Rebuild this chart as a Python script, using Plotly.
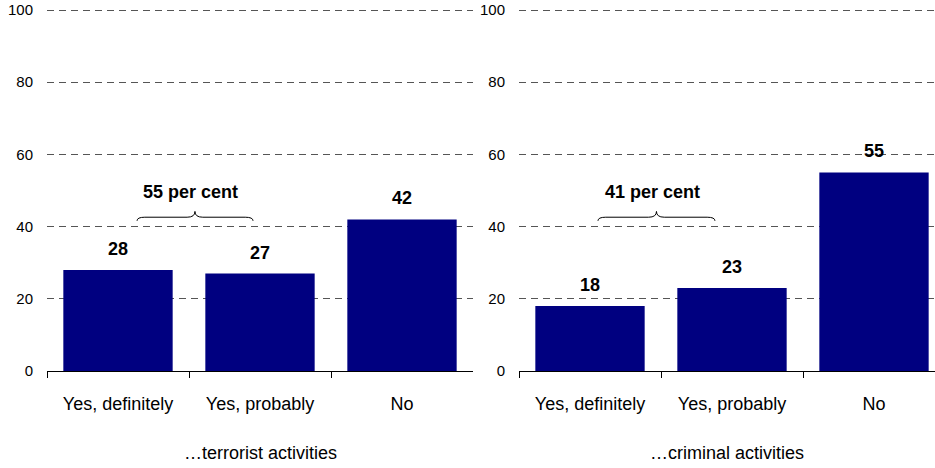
import plotly.graph_objects as go

categories = ["Yes, definitely", "Yes, probably", "No"]
terrorist_values = [28, 27, 42]
criminal_values = [18, 23, 55]
panel_titles = ["…terrorist activities", "…criminal activities"]
brace_labels = ["55 per cent", "41 per cent"]
y_ticks = [0, 20, 40, 60, 80, 100]

W, H = 935, 468
BAR_COLOR = "#000080"
FONT = "Liberation Sans, Arial, sans-serif"

fig = go.Figure()

panels = [
    dict(vals=terrorist_values, xa="x", ya="y", title=panel_titles[0], brace=brace_labels[0],
         span=(0.134, 0.951, 0.542)),
    dict(vals=criminal_values, xa="x2", ya="y2", title=panel_titles[1], brace=brace_labels[1],
         span=(0.056, 0.880, 0.468)),
]

for p in panels:
    fig.add_trace(go.Bar(x=categories, y=p["vals"], xaxis=p["xa"], yaxis=p["ya"],
                         marker=dict(color=BAR_COLOR, line=dict(width=0)),
                         width=0.77, showlegend=False, hoverinfo="x+y"))
    for c, v in zip(categories, p["vals"]):
        fig.add_annotation(x=c, y=v, xref=p["xa"], yref=p["ya"], text=f"<b>{v}</b>",
                           showarrow=False, yanchor="bottom", yshift=9,
                           font=dict(family=FONT, size=18, color="black"))
    x0, x1, xm = p["span"]
    yb, ymid, ytop = 41.6, 42.6, 44.2
    d = 0.055
    path = (f"M {x0},{yb} Q {x0},{ymid} {x0+d},{ymid} L {xm-d},{ymid} "
            f"Q {xm},{ymid} {xm},{ytop} Q {xm},{ymid} {xm+d},{ymid} "
            f"L {x1-d},{ymid} Q {x1},{ymid} {x1},{yb}")
    fig.add_shape(type="path", path=path, xref=p["xa"], yref=p["ya"],
                  line=dict(color="black", width=1))
    fig.add_annotation(x=xm - 0.03, y=49.7, xref=p["xa"], yref=p["ya"], text=f"<b>{p['brace']}</b>",
                       showarrow=False, font=dict(family=FONT, size=18, color="black"))
    dom = "x domain" if p["xa"] == "x" else "x2 domain"
    fig.add_annotation(x=0.5, xref=dom, y=(H - 453) / H, yref="paper", text=p["title"],
                       showarrow=False, yanchor="middle",
                       font=dict(family=FONT, size=18, color="black"))

xcommon = dict(type="category", showline=True, linecolor="black", linewidth=1,
               ticks="outside", tickson="boundaries", ticklen=6, tickcolor="black",
               showgrid=False, zeroline=False, ticklabelstandoff=16, automargin=False,
               tickfont=dict(family=FONT, size=18, color="black"))
ycommon = dict(range=[0, 100.5], tickvals=y_ticks, showline=False, zeroline=False,
               showgrid=True, gridcolor="#555555", griddash="7px,5px", gridwidth=1,
               ticks="", ticklabelstandoff=13, automargin=False,
               tickfont=dict(family=FONT, size=15, color="black"))

y0px = 371
ppu = (371 - 10) / 100.0
ydom = [(H - y0px) / H, (H - (y0px - 100.5 * ppu)) / H]
fig.update_layout(
    width=W, height=H, margin=dict(l=0, r=0, t=0, b=0),
    paper_bgcolor="white", plot_bgcolor="white",
    xaxis=dict(domain=[47 / W, 473 / W], range=[-0.5, 2.5], anchor="y", **xcommon),
    yaxis=dict(domain=ydom, anchor="x", **ycommon),
    xaxis2=dict(domain=[519 / W, 1.0], range=[-0.5, 2.5 - 10 / 142], anchor="y2", **xcommon),
    yaxis2=dict(domain=ydom, anchor="x2", **ycommon),
)

fig.write_html("out.html", config={"displayModeBar": False},
               post_script="document.body.style.margin='0';document.body.style.overflow='hidden';")
